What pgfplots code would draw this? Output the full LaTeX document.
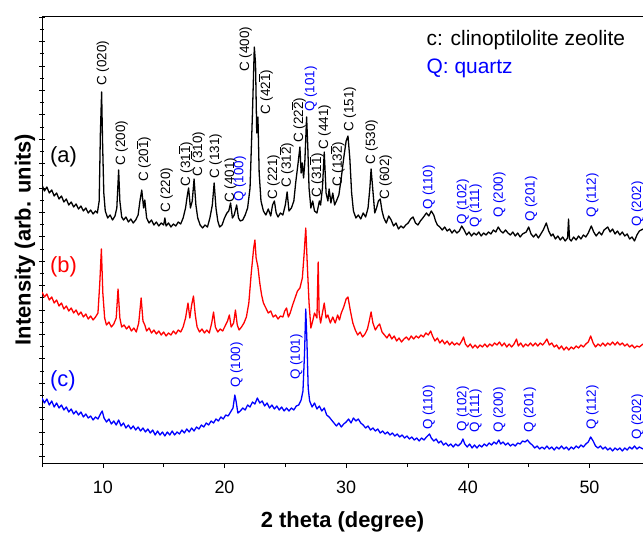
\documentclass[border=0pt]{standalone}
\usepackage{pgfplots}
\pgfplotsset{compat=1.18}
\usepackage{fontspec}
\setmainfont{Liberation Sans}
\newcommand{\ob}[1]{$\overline{\mbox{#1}}$}
\newcommand{\pk}[3]{\node[rotate=90,anchor=west,inner sep=0pt,font=\fontsize{13.5}{14}\selectfont,#1] at (axis cs:#2) {#3};}
\begin{document}
\begin{tikzpicture}
\begin{axis}[
  scale only axis,
  width=601bp, height=447bp,
  xmin=5, xmax=54.4, ymin=0, ymax=447,
  axis x line*=box, axis y line*=left,
  axis line style={line width=0.6pt},
  tick pos=left,
  xtick={10,20,...,50},
  minor xtick={5,15,...,55},
  ytick={6.7,31.1,...,447},
  minor ytick={18.9,43.3,...,447},
  yticklabels={},
  xtick align=outside, ytick align=center,
  major tick length=5bp, minor tick length=4bp,
  tick style={line width=0.6pt, black},
  /pgf/number format/assume math mode=true,
  xticklabel style={font=\fontsize{18}{18}\selectfont, yshift=-9bp},
  xlabel={\bfseries 2 theta (degree)},
  ylabel={\bfseries Intensity (arb. units)},
  xlabel style={font=\fontsize{22}{24}\selectfont, at={([yshift=-59bp]axis description cs:0.5,0)}, anchor=center},
  ylabel style={font=\fontsize{22}{24}\selectfont, at={([xshift=-17bp]axis description cs:0,0.5)}, anchor=center, rotate=0},
]
% (a) black
\addplot[black, line width=1.3pt, line join=round] coordinates {
(5.0,278) (5.2,272) (5.4,276) (5.6,270) (5.8,273) (6.0,267) (6.2,270) (6.4,264) (6.6,267) (6.8,261)
(7.0,264) (7.2,258) (7.4,261) (7.6,256) (7.8,259) (8.0,254) (8.2,257) (8.4,252) (8.6,255) (8.8,250)
(9.0,253) (9.2,249) (9.4,252) (9.55,250) (9.7,262) (9.8,330) (9.9,371) (9.98,320) (10.08,270) (10.2,252)
(10.4,245) (10.6,248) (10.8,243) (11.0,247) (11.15,255) (11.3,293) (11.4,262) (11.55,246) (11.7,243) (11.9,246)
(12.1,241) (12.3,244) (12.5,240) (12.7,243) (12.9,248) (13.05,262) (13.2,273) (13.35,255) (13.45,263) (13.6,245)
(13.8,240) (14.0,243) (14.2,238) (14.4,241) (14.6,237) (14.8,240) (15.0,238) (15.1,245) (15.2,237) (15.4,240)
(15.6,236) (15.8,239) (16.0,237) (16.2,241) (16.4,239) (16.6,245) (16.8,255) (16.95,268) (17.05,275) (17.2,255)
(17.35,262) (17.5,284) (17.65,258) (17.8,245) (18.0,238) (18.2,235) (18.4,238) (18.6,236) (18.8,245) (19.0,258)
(19.15,280) (19.3,255) (19.45,242) (19.6,236) (19.8,238) (20.0,245) (20.2,250) (20.35,252) (20.5,260) (20.65,245)
(20.8,248) (21.0,258) (21.15,245) (21.3,242) (21.5,243) (21.7,248) (21.9,255) (22.1,275) (22.3,350) (22.45,416)
(22.55,400) (22.65,330) (22.75,346) (22.85,290) (23.0,262) (23.2,252) (23.4,248) (23.6,254) (23.8,247) (23.95,258)
(24.1,262) (24.25,250) (24.4,246) (24.6,250) (24.8,248) (25.0,258) (25.15,271) (25.3,252) (25.5,255) (25.7,262)
(25.85,280) (26.05,300) (26.2,316) (26.3,290) (26.4,300) (26.5,285) (26.6,300) (26.75,346) (26.85,315) (26.95,275)
(27.1,255) (27.25,262) (27.4,252) (27.6,250) (27.8,262) (27.9,258) (28.05,275) (28.2,311) (28.35,270) (28.5,262)
(28.6,274) (28.75,260) (28.9,270) (29.05,258) (29.2,262) (29.4,268) (29.6,285) (29.8,305) (30.0,322) (30.15,327)
(30.3,305) (30.45,270) (30.6,252) (30.8,245) (31.0,248) (31.2,244) (31.4,250) (31.6,246) (31.8,255) (31.95,275)
(32.05,294) (32.2,272) (32.35,250) (32.5,255) (32.65,262) (32.8,264) (32.95,252) (33.1,245) (33.3,240) (33.5,247)
(33.7,243) (33.9,237) (34.1,240) (34.3,234) (34.5,237) (34.7,235) (34.9,238) (35.1,240) (35.3,244) (35.5,246)
(35.7,240) (35.9,238) (36.1,242) (36.3,245) (36.6,250) (36.8,247) (37.0,252) (37.2,248) (37.35,242) (37.5,238)
(37.7,236) (37.9,233) (38.1,236) (38.3,232) (38.5,234) (38.7,230) (38.9,233) (39.1,230) (39.3,232) (39.5,237)
(39.7,233) (39.9,228) (40.1,231) (40.3,227) (40.5,230) (40.7,228) (40.9,231) (41.1,227) (41.3,230) (41.5,228)
(41.7,231) (41.9,229) (42.1,233) (42.3,231) (42.5,236) (42.7,232) (42.9,230) (43.1,233) (43.3,230) (43.5,228)
(43.7,231) (43.9,227) (44.1,230) (44.3,226) (44.5,229) (44.8,231) (45.0,236) (45.2,229) (45.4,226) (45.6,229)
(45.8,225) (46.0,229) (46.2,233) (46.45,240) (46.65,232) (46.85,227) (47.0,229) (47.2,224) (47.4,227) (47.6,223)
(47.8,226) (48.0,222) (48.2,225) (48.28,244) (48.36,224) (48.5,222) (48.7,226) (48.9,223) (49.1,227) (49.3,224)
(49.5,228) (49.7,226) (49.9,230) (50.15,237) (50.35,231) (50.55,227) (50.8,231) (51.0,228) (51.2,233) (51.5,236)
(51.7,231) (51.9,234) (52.1,229) (52.3,232) (52.5,228) (52.7,231) (52.9,227) (53.1,229) (53.3,224) (53.5,226)
(53.7,222) (53.9,228) (54.1,232) (54.4,234)
};
% (b) red
\addplot[red, line width=1.3pt, line join=round] coordinates {
(5.0,171) (5.2,166) (5.4,169) (5.6,163) (5.8,166) (6.0,160) (6.2,163) (6.4,157) (6.6,160) (6.8,154)
(7.0,157) (7.2,152) (7.4,155) (7.6,150) (7.8,153) (8.0,148) (8.2,151) (8.4,146) (8.6,149) (8.8,144)
(9.0,147) (9.2,143) (9.4,146) (9.6,150) (9.75,180) (9.88,214) (10.0,170) (10.15,145) (10.3,138) (10.5,141)
(10.7,136) (10.9,139) (11.1,145) (11.25,174) (11.4,145) (11.55,136) (11.75,138) (11.95,134) (12.15,137) (12.35,132)
(12.55,135) (12.75,131) (12.95,140) (13.15,165) (13.3,142) (13.45,138) (13.6,132) (13.8,135) (14.0,130) (14.2,133)
(14.4,129) (14.6,132) (14.8,128) (15.0,131) (15.2,127) (15.4,130) (15.6,128) (15.8,132) (16.0,129) (16.2,133)
(16.4,131) (16.6,136) (16.8,145) (17.0,160) (17.15,145) (17.3,158) (17.45,167) (17.6,148) (17.75,136) (17.95,131)
(18.15,134) (18.35,130) (18.55,133) (18.75,130) (18.95,140) (19.1,151) (19.25,136) (19.45,131) (19.65,134) (19.85,132)
(20.05,137) (20.25,142) (20.4,148) (20.55,136) (20.75,140) (20.9,153) (21.05,138) (21.2,133) (21.4,136) (21.6,140)
(21.8,146) (22.0,160) (22.2,190) (22.4,215) (22.5,223) (22.6,205) (22.75,196) (22.9,180) (23.05,168) (23.2,160)
(23.4,155) (23.6,150) (23.8,152) (24.0,146) (24.2,148) (24.4,144) (24.6,147) (24.8,146) (24.95,152) (25.1,155)
(25.25,146) (25.4,150) (25.6,158) (25.8,165) (26.0,172) (26.2,175) (26.4,185) (26.55,210) (26.68,235) (26.8,200)
(26.95,160) (27.1,135) (27.25,142) (27.4,150) (27.6,145) (27.7,201) (27.78,150) (27.9,140) (28.05,150) (28.2,160)
(28.35,145) (28.5,148) (28.7,140) (28.9,146) (29.1,140) (29.3,148) (29.45,143) (29.6,150) (29.8,156) (30.0,164)
(30.15,166) (30.35,152) (30.55,140) (30.75,133) (30.95,128) (31.15,131) (31.35,126) (31.55,129) (31.75,134) (31.9,142)
(32.05,151) (32.2,140) (32.4,133) (32.6,137) (32.75,139) (32.95,131) (33.15,128) (33.35,125) (33.55,129) (33.75,124)
(33.95,127) (34.15,122) (34.35,125) (34.55,121) (34.75,124) (34.95,126) (35.15,123) (35.35,127) (35.55,124) (35.75,127)
(35.95,125) (36.15,128) (36.35,126) (36.55,130) (36.75,128) (36.95,132) (37.1,127) (37.3,122) (37.5,125) (37.7,120)
(37.9,123) (38.1,119) (38.3,122) (38.5,118) (38.7,121) (38.9,118) (39.1,120) (39.3,118) (39.5,122) (39.65,126)
(39.8,119) (40.0,116) (40.2,119) (40.4,115) (40.6,118) (40.8,115) (41.0,118) (41.2,116) (41.4,119) (41.6,116)
(41.8,119) (42.0,117) (42.2,120) (42.4,118) (42.6,121) (42.8,117) (43.0,120) (43.2,116) (43.4,119) (43.6,116)
(43.8,119) (44.0,124) (44.15,117) (44.35,120) (44.55,116) (44.75,119) (44.95,117) (45.15,120) (45.35,117) (45.55,120)
(45.75,117) (45.95,120) (46.15,118) (46.35,121) (46.5,124) (46.7,118) (46.9,120) (47.1,116) (47.3,118) (47.5,114)
(47.7,117) (47.9,113) (48.1,116) (48.3,113) (48.5,116) (48.7,114) (48.9,117) (49.1,115) (49.3,118) (49.5,116)
(49.7,119) (49.9,121) (50.1,127) (50.3,120) (50.5,116) (50.7,119) (50.9,117) (51.1,120) (51.3,117) (51.5,120)
(51.7,118) (51.9,121) (52.1,118) (52.3,121) (52.5,118) (52.7,120) (52.9,117) (53.1,119) (53.3,116) (53.5,118)
(53.7,115) (53.9,117) (54.1,116) (54.4,119)
};
% (c) blue
\addplot[blue, line width=1.3pt, line join=round] coordinates {
(5.0,65) (5.2,60) (5.4,64) (5.6,58) (5.8,62) (6.0,56) (6.2,60) (6.4,55) (6.6,58) (6.8,53)
(7.0,56) (7.2,51) (7.4,54) (7.6,49) (7.8,52) (8.0,48) (8.2,51) (8.4,46) (8.6,49) (8.8,45)
(9.0,47) (9.2,43) (9.4,46) (9.6,44) (9.8,49) (9.95,52) (10.1,45) (10.3,41) (10.5,44) (10.7,39)
(10.9,42) (11.1,38) (11.3,43) (11.5,37) (11.7,40) (11.9,35) (12.1,38) (12.3,34) (12.5,37) (12.7,33)
(12.9,36) (13.1,32) (13.3,35) (13.5,31) (13.7,34) (13.9,30) (14.1,33) (14.3,28) (14.5,32) (14.7,28)
(14.9,31) (15.1,27) (15.3,31) (15.5,28) (15.7,32) (15.9,28) (16.1,31) (16.3,29) (16.5,33) (16.7,30)
(16.9,34) (17.1,31) (17.3,35) (17.5,32) (17.7,36) (17.9,34) (18.1,38) (18.3,36) (18.5,40) (18.7,38)
(18.9,42) (19.1,40) (19.3,44) (19.5,42) (19.7,46) (19.9,44) (20.1,48) (20.3,47) (20.5,51) (20.7,55)
(20.85,68) (20.95,62) (21.1,50) (21.3,52) (21.5,55) (21.7,53) (21.9,58) (22.1,56) (22.3,61) (22.5,59)
(22.7,65) (22.9,60) (23.1,62) (23.3,57) (23.5,60) (23.7,55) (23.9,58) (24.1,54) (24.3,57) (24.5,53)
(24.7,56) (24.9,52) (25.1,55) (25.3,52) (25.5,55) (25.7,53) (25.9,57) (26.1,58) (26.3,63) (26.45,72)
(26.58,110) (26.68,154) (26.78,120) (26.88,75) (27.0,62) (27.2,56) (27.4,60) (27.6,54) (27.8,57) (28.0,52)
(28.2,55) (28.4,48) (28.6,46) (28.8,43) (29.0,40) (29.2,37) (29.4,40) (29.6,36) (29.8,39) (30.0,41)
(30.2,44) (30.4,40) (30.6,45) (30.8,42) (31.0,44) (31.2,40) (31.4,38) (31.6,35) (31.8,37) (32.0,33)
(32.2,35) (32.4,32) (32.6,34) (32.8,30) (33.0,32) (33.2,29) (33.4,31) (33.6,28) (33.8,30) (34.0,27)
(34.2,29) (34.4,26) (34.6,28) (34.8,25) (35.0,27) (35.2,24) (35.4,26) (35.6,23) (35.8,25) (36.0,22)
(36.2,25) (36.4,23) (36.6,26) (36.85,29) (37.0,25) (37.2,22) (37.4,24) (37.6,20) (37.8,22) (38.0,18)
(38.2,20) (38.4,17) (38.6,19) (38.8,16) (39.0,19) (39.2,17) (39.45,20) (39.6,24) (39.75,19) (39.95,16)
(40.15,19) (40.35,15) (40.55,18) (40.75,15) (40.95,18) (41.15,16) (41.35,19) (41.55,17) (41.75,20) (41.95,18)
(42.15,21) (42.35,19) (42.55,23) (42.7,19) (42.9,21) (43.1,18) (43.3,20) (43.5,17) (43.7,19) (43.9,17)
(44.1,20) (44.3,19) (44.5,22) (44.7,21) (44.9,23) (45.1,20) (45.3,18) (45.5,15) (45.7,17) (45.9,14)
(46.1,16) (46.3,14) (46.5,17) (46.7,14) (46.9,16) (47.1,13) (47.3,16) (47.5,14) (47.7,17) (47.9,14)
(48.1,16) (48.3,13) (48.5,16) (48.7,14) (48.9,17) (49.1,15) (49.3,18) (49.5,16) (49.7,19) (49.9,21)
(50.1,26) (50.3,22) (50.5,17) (50.7,15) (50.9,17) (51.1,14) (51.3,16) (51.5,13) (51.7,15) (51.9,12)
(52.1,15) (52.3,13) (52.5,15) (52.7,12) (52.9,15) (53.1,13) (53.3,16) (53.5,14) (53.7,17) (53.9,14)
(54.1,16) (54.4,14)
};
% peak labels, curve (a)
\pk{black}{10.0,377}{C (020)}
\pk{black}{11.55,297}{C (200)}
\pk{black}{13.38,281}{C (20\ob{1})}
\pk{black}{15.25,250}{C (220)}
\pk{black}{16.83,276}{C (31\ob{1})}
\pk{black}{17.8,286}{C (\ob{3}10)}
\pk{black}{19.27,284}{C (131)}
\pk{black}{20.5,260}{C (401)}
\pk{blue}{21.26,261}{Q (100)}
\pk{black}{21.73,391}{C (400)}
\pk{black}{23.4,348}{C (42\ob{1})}
\pk{black}{24.05,263}{C (221)}
\pk{black}{25.1,275}{C (31\ob{2})}
\pk{black}{26.1,320}{C (22\ob{2})}
\pk{blue}{27.1,351}{Q (101)}
\pk{black}{27.6,265}{C (31\ob{1})}
\pk{black}{28.24,313}{C (441)}
\pk{black}{29.3,276}{C (13\ob{2})}
\pk{black}{30.3,331}{C (151)}
\pk{black}{32.1,298}{C (530)}
\pk{black}{33.25,263}{C (602)}
\pk{blue}{36.8,253}{Q (110)}
\pk{blue}{39.6,238}{Q (102)}
\pk{blue}{40.65,235}{Q (111)}
\pk{blue}{42.6,245}{Q (200)}
\pk{blue}{45.2,241}{Q (201)}
\pk{blue}{50.25,245}{Q (112)}
\pk{blue}{53.95,236}{Q (202)}
% peak labels, curve (c)
\pk{blue}{21.0,75}{Q (100)}
\pk{blue}{25.9,83}{Q (101)}
\pk{blue}{36.8,33}{Q (110)}
\pk{blue}{39.6,31}{Q (102)}
\pk{blue}{40.65,30}{Q (111)}
\pk{blue}{42.6,30}{Q (200)}
\pk{blue}{45.1,30}{Q (201)}
\pk{blue}{50.25,33}{Q (112)}
\pk{blue}{53.95,23}{Q (202)}
% curve names and key
\node[anchor=west,inner sep=0pt,font=\fontsize{22}{24}\selectfont] at (axis cs:5.65,306) {(a)};
\node[anchor=west,inner sep=0pt,font=\fontsize{22}{24}\selectfont,red] at (axis cs:5.65,196) {(b)};
\node[anchor=west,inner sep=0pt,font=\fontsize{22}{24}\selectfont,blue] at (axis cs:5.65,82) {(c)};
\node[anchor=west,inner sep=0pt,font=\fontsize{21}{24}\selectfont] at (axis cs:36.6,423) {c: clinoptilolite zeolite};
\node[anchor=west,inner sep=0pt,font=\fontsize{21}{24}\selectfont,blue] at (axis cs:36.6,395) {Q: quartz};
\end{axis}
\pgfresetboundingbox
\useasboundingbox ([shift={(-42bp,-74bp)}]current axis.south west) rectangle ([shift={(0bp,16bp)}]current axis.north east);
\end{tikzpicture}
\end{document}
